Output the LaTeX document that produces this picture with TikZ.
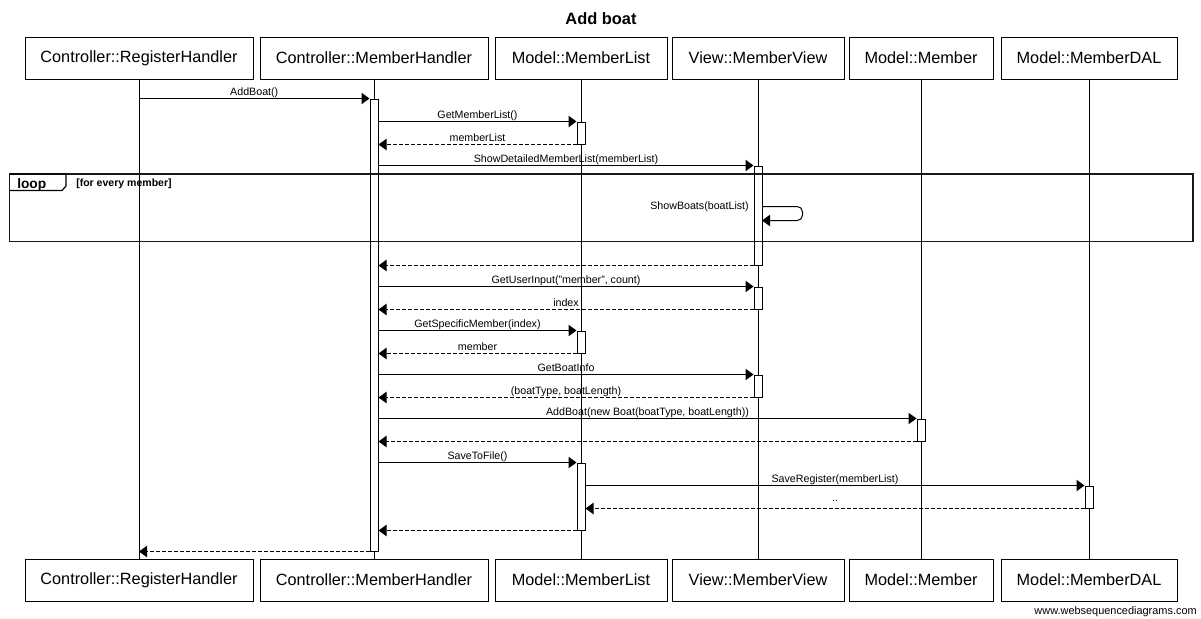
\documentclass[tikz,border=0pt]{standalone}
\usepackage{fontspec}
\setmainfont{Liberation Sans}
\usetikzlibrary{arrows.meta,fit}
\begin{document}
\begin{tikzpicture}[x=0.75pt,y=-0.75pt,
  actor/.style={draw, line width=0.75pt, minimum height=42*0.75pt, inner sep=0pt,
    font=\fontsize{12.2}{14}\selectfont},
  lifeline/.style={line width=0.75pt},
  actbar/.style={draw, fill=white, line width=0.75pt, inner sep=0pt},
  msg/.style={line width=0.75pt, -{Triangle[length=6pt,width=8.5pt]}},
  ret/.style={msg, dash pattern=on 3pt off 1.5pt},
  lbl/.style={font=\fontsize{8}{9}\selectfont, inner sep=0pt, text height=6pt,
    text depth=1.7pt, above=0.5pt},
  framebox/.style={line width=1.4pt, draw=black!90},
]
\useasboundingbox (0,0) rectangle (1201,618);

% title
\node[font=\bfseries\fontsize{12.3}{14}\selectfont] (title) at (601,19) {Add boat};

% participants, top and bottom
\node[actor, minimum width=228*0.75pt] (h1) at (139,58) {Controller::RegisterHandler};
\node[actor, minimum width=228*0.75pt] (h2) at (374,58) {Controller::MemberHandler};
\node[actor, minimum width=172*0.75pt] (h3) at (581,58) {Model::MemberList};
\node[actor, minimum width=172*0.75pt] (h4) at (758,58) {View::MemberView};
\node[actor, minimum width=144*0.75pt] (h5) at (921,58) {Model::Member};
\node[actor, minimum width=176*0.75pt] (h6) at (1089,58) {Model::MemberDAL};

\node[actor, minimum width=228*0.75pt] (f1) at (139,580) {Controller::RegisterHandler};
\node[actor, minimum width=228*0.75pt] (f2) at (374,580) {Controller::MemberHandler};
\node[actor, minimum width=172*0.75pt] (f3) at (581,580) {Model::MemberList};
\node[actor, minimum width=172*0.75pt] (f4) at (758,580) {View::MemberView};
\node[actor, minimum width=144*0.75pt] (f5) at (921,580) {Model::Member};
\node[actor, minimum width=176*0.75pt] (f6) at (1089,580) {Model::MemberDAL};

% lifelines
\foreach \i in {1,...,6} \draw[lifeline] (h\i) -- (f\i);

% activation bars
\node[actbar, fit={(370,99)(378,551)}] (a1) {};
\node[actbar, fit={(577,122)(585,144)}] (a2) {};
\node[actbar, fit={(754,166)(762,265)}] (a3) {};
\node[actbar, fit={(754,287)(762,309)}] (a4) {};
\node[actbar, fit={(577,331)(585,353)}] (a5) {};
\node[actbar, fit={(754,375)(762,397)}] (a6) {};
\node[actbar, fit={(917,419)(925,441)}] (a7) {};
\node[actbar, fit={(577,463)(585,530)}] (a8) {};
\node[actbar, fit={(1085,486)(1093,508)}] (a9) {};

% messages
\draw[msg] (h1.south |- a1.north) -- node[lbl] {AddBoat()} (a1.north west);
\draw[msg] (a1.east |- a2.north) -- node[lbl] {GetMemberList()} (a2.north west);
\draw[ret] (a2.south west) -- node[lbl] {memberList} (a1.east |- a2.south);
\draw[msg] (a1.east |- a3.north) -- node[lbl] {ShowDetailedMemberList(memberList)} (a3.north west);

% self call inside the loop
\coordinate (selfout) at (762,206.5);
\coordinate (selfin) at (762,220.5);
\draw[msg, rounded corners=4pt] (selfout) -- ++(40.5,0) -- ++(0,14) -- (selfin);
\node[font=\fontsize{8}{9}\selectfont, inner sep=0pt, anchor=base east] (selflbl) at (749,209.5) {ShowBoats(boatList)};

\draw[ret] (a3.south west) -- (a1.east |- a3.south);
\draw[msg] (a1.east |- a4.north) -- node[lbl] {GetUserInput("member", count)} (a4.north west);
\draw[ret] (a4.south west) -- node[lbl] {index} (a1.east |- a4.south);
\draw[msg] (a1.east |- a5.north) -- node[lbl] {GetSpecificMember(index)} (a5.north west);
\draw[ret] (a5.south west) -- node[lbl] {member} (a1.east |- a5.south);
\draw[msg] (a1.east |- a6.north) -- node[lbl] {GetBoatInfo} (a6.north west);
\draw[ret] (a6.south west) -- node[lbl] {(boatType, boatLength)} (a1.east |- a6.south);
\draw[msg] (a1.east |- a7.north) -- node[lbl] {AddBoat(new Boat(boatType, boatLength))} (a7.north west);
\draw[ret] (a7.south west) -- (a1.east |- a7.south);
\draw[msg] (a1.east |- a8.north) -- node[lbl] {SaveToFile()} (a8.north west);
\draw[msg] (a8.east |- a9.north) -- node[lbl] {SaveRegister(memberList)} (a9.north west);
\draw[ret] (a9.south west) -- node[lbl, above=2.5pt] {..} (a8.east |- a9.south);
\draw[ret] (a8.south west) -- (a1.east |- a8.south);
\draw[ret] (a1.south west) -- (h1.south |- a1.south);

% loop fragment
\draw[framebox] (9.5,174) rectangle (1193,241.5);
\draw[line width=0.9pt] (9.5,174) -- (66,174) -- (66,186) -- (62,190.5) -- (9.5,190.5);
\node[font=\bfseries\fontsize{10.3}{12}\selectfont, inner sep=0pt, anchor=base west] (looplbl) at (17,188) {loop};
\node[font=\bfseries\fontsize{7.9}{9}\selectfont, inner sep=0pt, anchor=base west] (loopcond) at (76,186.5) {[for every member]};

% footer
\node[font=\fontsize{8.2}{10}\selectfont, inner sep=0pt, anchor=base east] (wm) at (1197,614) {www.websequencediagrams.com};
\end{tikzpicture}
\end{document}
